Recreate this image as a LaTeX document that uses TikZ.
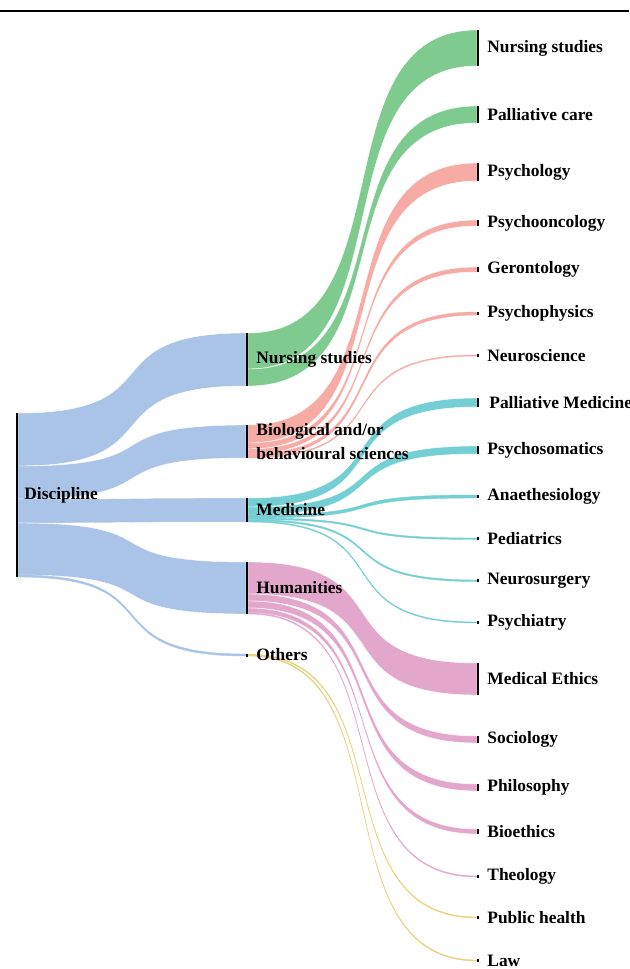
\documentclass[tikz,border=0pt]{standalone}
\usepackage{fontspec}
\setmainfont{Liberation Serif}
\usetikzlibrary{positioning, calc, backgrounds}

\definecolor{discblue}{RGB}{169,196,231}
\definecolor{nursgreen}{RGB}{127,202,143}
\definecolor{biosalmon}{RGB}{246,171,165}
\definecolor{medteal}{RGB}{116,207,212}
\definecolor{humpink}{RGB}{228,167,204}
\definecolor{othyellow}{RGB}{232,210,124}

% band from one bar to another: source, offset, target, offset, width, style
\newcommand{\flow}[6]{%
  \path[#6] let \p1=($(#1.north east)+(0,#2)$), \p2=($(#3.north west)+(0,#4)$),
    \p3=($(\p1)+(0,#5)$), \p4=($(\p2)+(0,#5)$),
    \p5=($(\p1)!0.7!(\p2)$), \p6=($(\p1)!0.3!(\p2)$) in
    (\p1) .. controls (\x5,\y1) and (\x6,\y2) .. (\p2) -- (\p4)
    .. controls (\x6,\y4) and (\x5,\y3) .. (\p3) -- cycle;}

\begin{document}
\begin{tikzpicture}[
    x=0.5pt, y=-0.5pt,
    bar/.style={fill=black, inner sep=0pt, outer sep=0pt, minimum width=1pt, minimum height={#1*0.5pt}, anchor=north west},
    lab/.style={font=\bfseries\fontsize{8.7}{12}\selectfont, inner sep=0pt, align=left},
    band/.style={fill=#1, draw=white, line width=0.2pt},
    hairband/.style={fill=#1, draw=#1, line width=0.2pt}
]
\useasboundingbox (0,0) rectangle (629,969);

% rule on top
\draw[line width=1.1pt] (0,11) -- (629,11);

% Discipline
\node[bar=164] (disc) at (16,413) {};
\node[lab, right=3pt of disc] {Discipline};

% first level
\node[bar=53] (nurs) at (246,333) {};
\node[bar=33] (bio) at (246,425) {};
\node[bar=24] (med) at (246,498) {};
\node[bar=52] (hum) at (246,562) {};
\node[bar=3] (oth) at (246,653.5) {};

\node[lab, right=4pt of nurs] {Nursing studies};
\node[lab, right=4pt of bio] {Biological and/or\\behavioural sciences};
\node[lab, right=4pt of med] {Medicine};
\node[lab, right=4pt of hum] {Humanities};
\node[lab, right=4pt of oth] {Others};

% second level
\node[bar=36] (nursN) at (477,30) {};
\node[bar=17] (nursP) at (477,106) {};
\node[bar=18] (bioPsy) at (477,163) {};
\node[bar=6] (bioOnc) at (477,220) {};
\node[bar=5] (bioGer) at (477,267) {};
\node[bar=3] (bioPhy) at (477,312) {};
\node[bar=3] (bioNeu) at (477,354) {};
\node[bar=9] (medPal) at (477,398) {};
\node[bar=8] (medSom) at (477,446) {};
\node[bar=3] (medAna) at (477,495) {};
\node[bar=3] (medPed) at (477,537.25) {};
\node[bar=3] (medNeu) at (477,579.25) {};
\node[bar=3] (medPsy) at (477,621) {};
\node[bar=32] (humEth) at (477,663) {};
\node[bar=7] (humSoc) at (477,736) {};
\node[bar=7] (humPhi) at (477,784) {};
\node[bar=5] (humBio) at (477,829) {};
\node[bar=3] (humThe) at (477,875) {};
\node[bar=3] (othPub) at (477,916) {};
\node[bar=3] (othLaw) at (477,959) {};

\node[lab, right=4pt of nursN] {Nursing studies};
\node[lab, right=4pt of nursP] {Palliative care};
\node[lab, right=4pt of bioPsy] {Psychology};
\node[lab, right=4pt of bioOnc] {Psychooncology};
\node[lab, right=4pt of bioGer] {Gerontology};
\node[lab, right=4pt of bioPhy] {Psychophysics};
\node[lab, right=4pt of bioNeu] {Neuroscience};
\node[lab, right=5pt of medPal] {Palliative Medicine};
\node[lab, right=4pt of medSom] {Psychosomatics};
\node[lab, right=4pt of medAna] {Anaethesiology};
\node[lab, right=4pt of medPed] {Pediatrics};
\node[lab, right=4pt of medNeu] {Neurosurgery};
\node[lab, right=4pt of medPsy] {Psychiatry};
\node[lab, right=4pt of humEth] {Medical Ethics};
\node[lab, right=4pt of humSoc] {Sociology};
\node[lab, right=4pt of humPhi] {Philosophy};
\node[lab, right=4pt of humBio] {Bioethics};
\node[lab, right=4pt of humThe] {Theology};
\node[lab, right=4pt of othPub] {Public health};
\node[lab, right=4pt of othLaw] {Law};

\begin{scope}[on background layer]
% Discipline to first level
\flow{disc}{0}{nurs}{0}{53}{band=discblue}
\flow{disc}{53}{bio}{0}{33}{band=discblue}
\flow{disc}{86}{med}{0}{24}{band=discblue}
\flow{disc}{110}{hum}{0}{52}{band=discblue}
\flow{disc}{162}{oth}{0.5}{2}{hairband=discblue}
% Nursing studies
\flow{nurs}{0}{nursN}{0}{36}{band=nursgreen}
\flow{nurs}{36}{nursP}{0}{17}{band=nursgreen}
% Biological and/or behavioural sciences
\flow{bio}{0}{bioPsy}{0}{18}{band=biosalmon}
\flow{bio}{18}{bioOnc}{0}{6}{band=biosalmon}
\flow{bio}{24}{bioGer}{0}{5}{band=biosalmon}
\flow{bio}{29}{bioPhy}{0}{3}{hairband=biosalmon}
\flow{bio}{32}{bioNeu}{1}{1}{hairband=biosalmon}
% Medicine
\flow{med}{0}{medPal}{0}{9}{band=medteal}
\flow{med}{9}{medSom}{0}{8}{band=medteal}
\flow{med}{17}{medAna}{0}{3}{hairband=medteal}
\flow{med}{20}{medPed}{0.75}{1.5}{hairband=medteal}
\flow{med}{21.5}{medNeu}{0.75}{1.5}{hairband=medteal}
\flow{med}{23}{medPsy}{1}{1}{hairband=medteal}
% Humanities
\flow{hum}{0}{humEth}{0}{32}{band=humpink}
\flow{hum}{32}{humSoc}{0}{7}{band=humpink}
\flow{hum}{39}{humPhi}{0}{7}{band=humpink}
\flow{hum}{46}{humBio}{0}{5}{band=humpink}
\flow{hum}{51}{humThe}{1}{1}{hairband=humpink}
% Others
\flow{oth}{0.5}{othPub}{1}{1}{hairband=othyellow}
\flow{oth}{1.5}{othLaw}{1}{1}{hairband=othyellow}
\end{scope}
\end{tikzpicture}
\end{document}
